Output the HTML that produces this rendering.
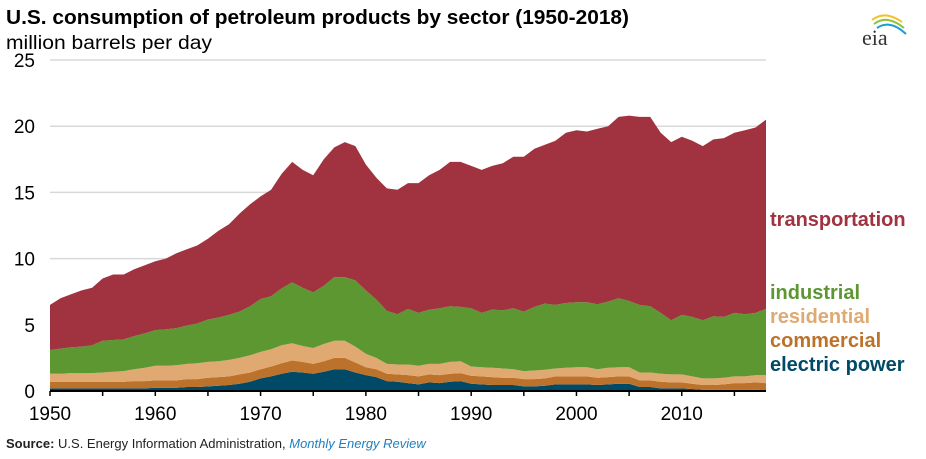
<!DOCTYPE html>
<html><head><meta charset="utf-8"><style>
body{margin:0;background:#fff;width:926px;height:459px;overflow:hidden}
svg{display:block;font-family:"Liberation Sans",sans-serif}
</style></head><body>
<svg id="chart" width="926" height="459">
<text x="6" y="24" font-size="20" font-weight="bold" textLength="623" lengthAdjust="spacingAndGlyphs">U.S. consumption of petroleum products by sector (1950-2018)</text>
<text x="6" y="49" font-size="19" textLength="206" lengthAdjust="spacingAndGlyphs">million barrels per day</text>
<g>
<path d="M872 20 Q885 10 902 22" stroke="#f2c12e" stroke-width="2" fill="none"/>
<path d="M874 24 Q887 14 904 28" stroke="#8cc43f" stroke-width="2" fill="none"/>
<path d="M877 28 Q890 19 906 34" stroke="#1f9bd7" stroke-width="2" fill="none"/>
<text x="862" y="45" font-size="22" font-family="Liberation Serif,serif" fill="#333">eia</text>
</g>
<g id="grid"></g><g id="areas"></g><g id="axes"></g>
<g font-size="20" font-weight="bold">
<text x="770" y="226" fill="#a0333f">transportation</text>
<text x="770" y="299" fill="#5d9732">industrial</text>
<text x="770" y="323" fill="#e0a972">residential</text>
<text x="770" y="347" fill="#bd722b">commercial</text>
<text x="770" y="371" fill="#004a68">electric power</text>
</g>
<text x="6" y="448" font-size="13" fill="#222"><tspan font-weight="bold">Source:</tspan> U.S. Energy Information Administration, <tspan fill="#1f7fc0" font-style="italic">Monthly Energy Review</tspan></text>
</svg>
<script>
const years=[];for(let y=1950;y<=2018;y++)years.push(y);
const electric=[0.2,0.2,0.2,0.2,0.2,0.2,0.2,0.2,0.2,0.2,0.25,0.25,0.25,0.3,0.3,0.35,0.4,0.45,0.55,0.7,0.95,1.1,1.3,1.45,1.4,1.3,1.45,1.65,1.65,1.4,1.2,1.05,0.75,0.7,0.6,0.5,0.65,0.6,0.7,0.75,0.55,0.5,0.45,0.45,0.45,0.35,0.35,0.4,0.5,0.5,0.5,0.5,0.45,0.5,0.55,0.55,0.3,0.3,0.2,0.2,0.2,0.15,0.1,0.1,0.1,0.1,0.1,0.1,0.05];
const commercial=[0.5,0.5,0.5,0.5,0.5,0.5,0.5,0.5,0.55,0.55,0.55,0.55,0.55,0.6,0.6,0.65,0.65,0.65,0.7,0.7,0.7,0.75,0.8,0.85,0.8,0.75,0.8,0.85,0.85,0.75,0.6,0.6,0.55,0.55,0.6,0.6,0.6,0.6,0.6,0.6,0.6,0.6,0.6,0.55,0.55,0.55,0.55,0.55,0.6,0.6,0.6,0.6,0.55,0.55,0.55,0.55,0.5,0.5,0.5,0.45,0.45,0.4,0.35,0.35,0.4,0.5,0.5,0.55,0.55];
const residential=[0.6,0.6,0.65,0.65,0.65,0.7,0.75,0.8,0.9,1.0,1.1,1.1,1.15,1.15,1.2,1.2,1.2,1.25,1.25,1.3,1.3,1.3,1.35,1.3,1.2,1.2,1.3,1.3,1.3,1.2,1.0,0.85,0.75,0.75,0.8,0.8,0.8,0.85,0.9,0.9,0.7,0.7,0.7,0.7,0.65,0.6,0.65,0.65,0.6,0.65,0.7,0.7,0.65,0.7,0.7,0.7,0.6,0.6,0.6,0.6,0.6,0.55,0.5,0.5,0.5,0.5,0.5,0.55,0.6];
const industrial=[1.8,1.9,1.95,2.0,2.1,2.4,2.4,2.4,2.5,2.6,2.7,2.75,2.8,2.9,3.0,3.2,3.3,3.4,3.5,3.7,4.0,4.0,4.3,4.6,4.4,4.2,4.4,4.8,4.8,5.0,4.8,4.4,4.0,3.8,4.2,4.0,4.1,4.2,4.2,4.1,4.4,4.1,4.4,4.4,4.6,4.5,4.8,5.0,4.8,4.9,4.9,4.9,4.9,5.0,5.2,5.0,5.1,5.0,4.6,4.1,4.5,4.5,4.4,4.7,4.6,4.8,4.7,4.7,5.0];
const transportation=[3.4,3.8,4.0,4.25,4.35,4.7,4.95,4.9,5.05,5.15,5.2,5.35,5.65,5.75,5.9,6.1,6.55,6.85,7.4,7.7,7.75,8.05,8.65,9.1,8.9,8.85,9.55,9.8,10.2,10.15,9.5,9.2,9.25,9.4,9.5,9.8,10.15,10.45,10.9,10.95,10.75,10.8,10.85,11.1,11.45,11.7,11.95,12.0,12.4,12.85,13.0,12.9,13.25,13.25,13.7,14.0,14.2,14.3,13.6,13.45,13.45,13.3,13.15,13.35,13.5,13.6,13.9,14.0,14.3];
const yTicks=[0,5,10,15,20,25];
const xTicks=[1950,1960,1970,1980,1990,2000,2010];
const NS="http://www.w3.org/2000/svg";
const x=v=>50+(v-1950)*(716/68);
const y=v=>391-v*13.24;
const mk=(t,a,p)=>{const e=document.createElementNS(NS,t);for(const k in a)e.setAttribute(k,a[k]);p.appendChild(e);return e;};
const grid=document.getElementById('grid'),areas=document.getElementById('areas'),axes=document.getElementById('axes');
yTicks.forEach(v=>{
 if(v>0){const l=mk('line',{x1:50,x2:766,y1:y(v),y2:y(v),stroke:'#d9d9d9','stroke-width':1.5},grid);
 
 }
 const t=mk('text',{x:35,y:y(v)+7,'font-size':19,'text-anchor':'end'},axes);t.textContent=v;
 
 
});
const series=[['electric-power',electric,'#004a68'],['commercial',commercial,'#bd722b'],['residential',residential,'#e0a972'],['industrial',industrial,'#5d9732'],['transportation',transportation,'#a0333f']];
let base=years.map(()=>0);
series.forEach(([n,vals,c])=>{
 const top=base.map((b,i)=>b+vals[i]);
 let d='M'+years.map((yr,i)=>x(yr).toFixed(1)+','+y(top[i]).toFixed(1)).join('L');
 for(let i=years.length-1;i>=0;i--)d+='L'+x(years[i]).toFixed(1)+','+y(base[i]).toFixed(1);
 const p=mk('path',{d:d+'Z',fill:c},areas);
 
 
 base=top;
});
const ax=mk('line',{x1:50,x2:766,y1:391,y2:391,stroke:'#000','stroke-width':2},axes);


for(let yr=1950;yr<=2015;yr+=5){const t=mk('line',{x1:x(yr),x2:x(yr),y1:391,y2:396,stroke:'#000','stroke-width':1.5},axes);
 
 }
xTicks.forEach(yr=>{const t=mk('text',{x:x(yr),y:420,'font-size':19,'text-anchor':'middle'},axes);t.textContent=yr;
 
 });
</script>
</body></html>
